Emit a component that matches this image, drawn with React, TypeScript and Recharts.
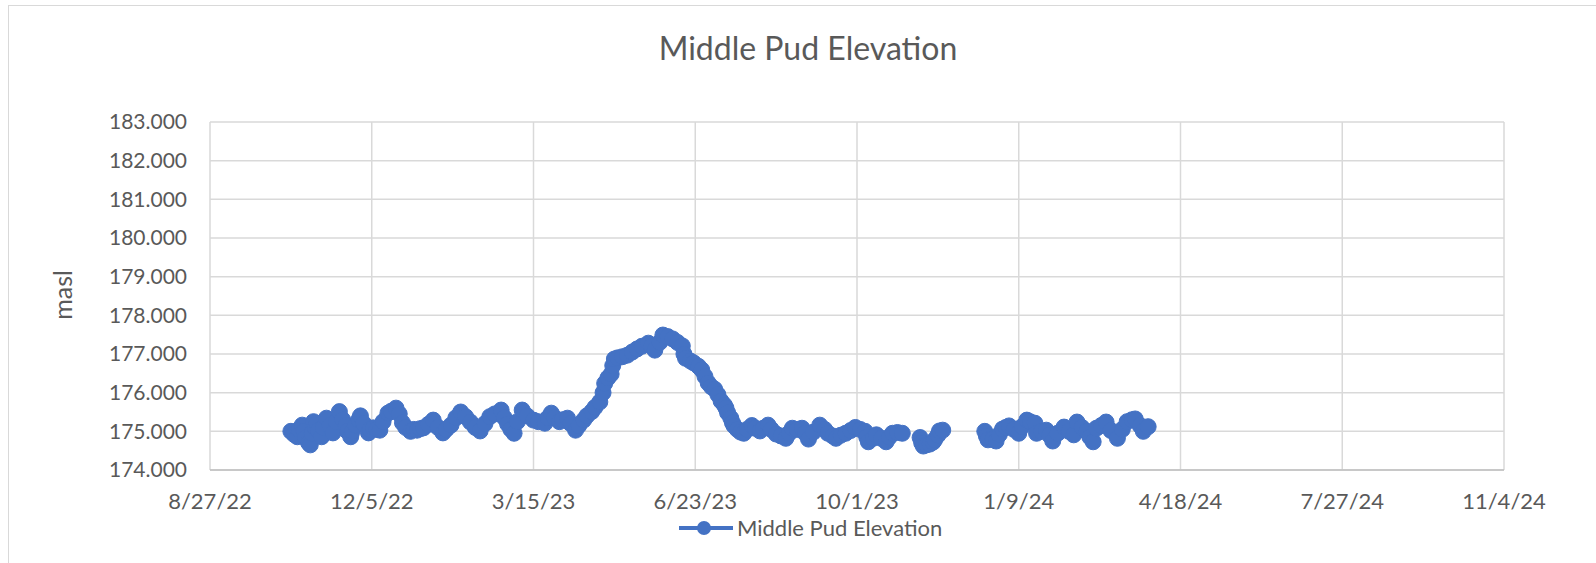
import React from 'react';
import { LineChart, Line, XAxis, YAxis, CartesianGrid } from 'recharts';

// x values are Excel date serials (44800 = 8/27/22)
const dates = [
  44850, 44852, 44854, 44855, 44857, 44858, 44859, 44861, 44862, 44863,
  44864, 44865, 44866, 44867, 44869, 44870, 44872, 44874, 44876, 44878,
  44880, 44882, 44884, 44885, 44887, 44888, 44890, 44892, 44893, 44895,
  44898, 44899, 44901, 44903, 44905, 44907, 44910, 44912, 44915, 44917,
  44919, 44921, 44924, 44926, 44928, 44930, 44932, 44935, 44938, 44941,
  44944, 44946, 44949, 44952, 44955, 44958, 44961, 44964, 44967, 44970,
  44973, 44976, 44980, 44982, 44984, 44986, 44988, 44990, 44993, 44996,
  45000, 45003, 45007, 45009, 45011, 45013, 45016, 45018, 45021, 45023,
  45026, 45028, 45031, 45033, 45036, 45038, 45041, 45043, 45044, 45046,
  45048, 45049, 45050, 45052, 45055, 45058, 45061, 45064, 45067, 45071,
  45073, 45075, 45078, 45080, 45083, 45086, 45089, 45092, 45093, 45094,
  45097, 45099, 45102, 45104, 45106, 45108, 45110, 45112, 45114, 45116,
  45118, 45119, 45120, 45122, 45123, 45124, 45126, 45128, 45130, 45132,
  45135, 45137, 45140, 45142, 45145, 45147, 45150, 45153, 45156, 45158,
  45160, 45163, 45166, 45168, 45170, 45173, 45177, 45180, 45182, 45185,
  45187, 45190, 45193, 45196, 45199, 45202, 45205, 45206, 45207, 45210,
  45212, 45215, 45218, 45220, 45222, 45225, 45228, 45234, 45239, 45240,
  45241, 45243, 45245, 45247, 45248, 45250, 45251, 45253, 45266, 45279,
  45280, 45281, 45284, 45286, 45288, 45290, 45292, 45294, 45297, 45300,
  45302, 45305, 45307, 45310, 45311, 45314, 45317, 45319, 45321, 45324,
  45328, 45331, 45334, 45336, 45339, 45342, 45344, 45346, 45348, 45351,
  45354, 45357, 45361, 45364, 45367, 45370, 45372, 45375, 45377, 45380,
];

const elevation: (number | null)[] = [
  175.0, 174.92, 174.86, 175.05, 175.16, 175.0, 174.83, 174.7, 174.65, 174.95,
  175.25, 175.1, 175.2, 175.02, 174.86, 175.1, 175.34, 175.15, 174.96, 175.25,
  175.51, 175.3, 175.16, 175.0, 174.86, 175.0, 175.16, 175.3, 175.4, 175.2,
  174.96, 175.05, 175.09, 175.05, 175.03, 175.25, 175.47, 175.52, 175.6, 175.45,
  175.22, 175.1, 175.0, 175.05, 175.03, 175.07, 175.09, 175.18, 175.29, 175.1,
  174.96, 175.05, 175.16, 175.35, 175.5, 175.38, 175.24, 175.1, 175.01, 175.2,
  175.38, 175.45, 175.55, 175.35, 175.19, 175.05, 174.95, 175.25, 175.55, 175.4,
  175.29, 175.25, 175.21, 175.35, 175.47, 175.35, 175.25, 175.3, 175.34, 175.2,
  175.03, 175.15, 175.29, 175.4, 175.51, 175.62, 175.76, 176.0, 176.24, 176.38,
  176.48, 176.7, 176.87, 176.9, 176.93, 176.97, 177.05, 177.13, 177.2, 177.28,
  177.2, 177.1, 177.3, 177.49, 177.45, 177.39, 177.3, 177.21, 177.0, 176.89,
  176.82, 176.77, 176.68, 176.59, 176.42, 176.25, 176.15, 176.09, 175.95, 175.78,
  175.68, 175.6, 175.48, 175.34, 175.22, 175.14, 175.05, 174.98, 174.95, 175.05,
  175.15, 175.08, 175.01, 175.08, 175.16, 175.05, 174.93, 174.88, 174.82, 174.95,
  175.08, 175.05, 175.08, 174.95, 174.8, 174.98, 175.16, 175.05, 174.95, 174.88,
  174.82, 174.9, 174.95, 175.02, 175.1, 175.05, 175.0, 174.85, 174.73, 174.82,
  174.91, 174.82, 174.73, 174.85, 174.95, 174.97, 174.95, null, 174.84, 174.7,
  174.62, 174.65, 174.67, 174.72, 174.78, 174.9, 175.01, 175.03, null, 175.0,
  174.88, 174.78, 174.8, 174.75, 174.92, 175.06, 175.1, 175.14, 175.05, 174.95,
  175.12, 175.29, 175.25, 175.21, 174.95, 175.0, 175.03, 174.9, 174.75, 174.95,
  175.11, 175.0, 174.91, 175.24, 175.1, 175.0, 174.85, 174.73, 175.08, 175.15,
  175.24, 175.02, 174.82, 175.05, 175.25, 175.3, 175.32, 175.15, 175.0, 175.12,
];

const xTicks = [44800, 44900, 45000, 45100, 45200, 45300, 45400, 45500, 45600];
const xTickLabels = ['8/27/22', '12/5/22', '3/15/23', '6/23/23', '10/1/23', '1/9/24', '4/18/24', '7/27/24', '11/4/24'];
const yTicks = [174, 175, 176, 177, 178, 179, 180, 181, 182, 183];

const title = 'Middle Pud Elevation';
const seriesName = 'Middle Pud Elevation';
const yLabel = 'masl';

const BLUE = '#4472C4';
const TEXT = '#595959';
const FONT = 'Lato, "Open Sans", sans-serif';

const data = dates.map((d, i) => ({ date: d, value: elevation[i] }));

export default function App() {
  return (
    <div
      style={{
        position: 'absolute',
        left: 0,
        top: 0,
        width: 1596,
        height: 563,
        background: '#fff',
        overflow: 'hidden',
        fontFamily: FONT,
      }}
    >
      <div
        style={{
          position: 'absolute',
          left: 8,
          top: 5,
          width: 1640,
          height: 620,
          border: '1.5px solid #d9d9d9',
        }}
      />
      <div
        style={{
          position: 'absolute',
          left: 808,
          top: 28,
          transform: 'translateX(-50%)',
          fontSize: 32,
          fontWeight: 400,
          lineHeight: '40px',
          color: TEXT,
          whiteSpace: 'nowrap',
        }}
      >
        {title}
      </div>
      <div
        style={{
          position: 'absolute',
          left: 62,
          top: 295,
          transform: 'translate(-50%, -50%) rotate(-90deg)',
          fontSize: 25,
          lineHeight: '28px',
          color: TEXT,
        }}
      >
        {yLabel}
      </div>

      <div style={{ position: 'absolute', left: 0, top: 0 }}>
        <LineChart
          width={1596}
          height={563}
          data={data}
          margin={{ top: 122, right: 92, left: 90, bottom: 33 }}
        >
          <CartesianGrid stroke="#d9d9d9" strokeWidth={1.5} ticks={xTicks} />
          <XAxis
            type="number"
            dataKey="date"
            domain={[44800, 45600]}
            ticks={xTicks}
            tickFormatter={(v: number) => xTickLabels[xTicks.indexOf(v)] ?? ''}
            interval={0}
            height={60}
            tickLine={false}
            tickMargin={17}
            axisLine={{ stroke: '#bfbfbf', strokeWidth: 1.5 }}
            tick={{ fill: TEXT, fontSize: 22, fontFamily: FONT }}
            allowDataOverflow
          />
          <YAxis
            type="number"
            domain={[174, 183]}
            ticks={yTicks}
            interval={0}
            width={120}
            tickLine={false}
            axisLine={false}
            tickMargin={17}
            tickFormatter={(v: number) => v.toFixed(3)}
            tick={{ fill: TEXT, fontSize: 21, fontFamily: FONT }}
          />
          <Line
            type="linear"
            dataKey="value"
            name={seriesName}
            stroke={BLUE}
            strokeWidth={5}
            dot={{ r: 8, fill: BLUE, stroke: BLUE, strokeWidth: 1 }}
            activeDot={false}
            connectNulls={false}
            isAnimationActive={false}
          />
        </LineChart>
      </div>

      <div
        style={{
          position: 'absolute',
          left: 679,
          top: 516,
          display: 'flex',
          alignItems: 'center',
          height: 24,
        }}
      >
        <svg width={54} height={20}>
          <line x1={0} y1={10} x2={54} y2={10} stroke={BLUE} strokeWidth={4} />
          <circle cx={25} cy={10} r={7} fill={BLUE} />
        </svg>
        <span style={{ marginLeft: 4, fontSize: 22, color: TEXT, lineHeight: '24px' }}>{seriesName}</span>
      </div>
    </div>
  );
}
